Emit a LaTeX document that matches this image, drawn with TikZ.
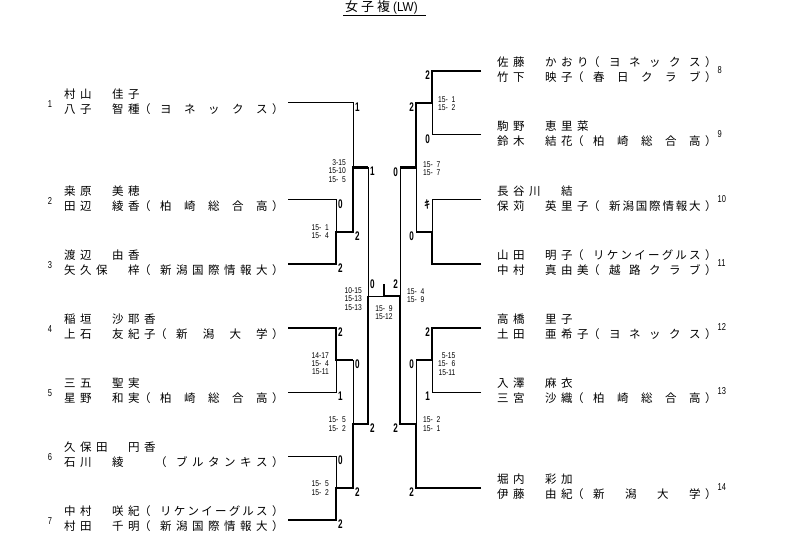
\documentclass[tikz,border=0pt]{standalone}
\usepackage{fontspec}
\usetikzlibrary{calc}
\newfontfamily\jp{Noto Sans CJK JP}
\newfontfamily\jpb[FakeBold=1.5]{Noto Sans CJK JP}
\newfontfamily\scorefont[FakeStretch=0.8]{Liberation Sans}
\newfontfamily\resfont[FakeStretch=0.65]{Liberation Sans}
\newfontfamily\numfont[FakeStretch=0.75]{Liberation Sans}
\newfontfamily\titlefont[FakeStretch=0.9]{Liberation Sans}
\newcount\ncellsA
\makeatletter
\newcommand\cellrow[1]{\@tfor\cc:=#1\do{\makebox[16pt][l]{\cc}}}
\newcommand\spreadrow[2]{\makebox[#1][l]{\let\sepx\relax\@tfor\cc:=#2\do{\sepx\cc\let\sepx\hfill}}}
\newcommand\entryline[2]{\ncellsA=0 \@tfor\cc:=#1\do{\advance\ncellsA by 1 }%
  \cellrow{#1}\makebox[16pt][l]{\hspace{-5pt}（}%
  \spreadrow{\dimexpr 16pt*\numexpr 11-\ncellsA\relax + 11.5pt\relax}{#2}\hspace{4.5pt}）}
\makeatother
\newcommand\hz{\hphantom{0}}
\tikzset{
  loser/.style={line width=1pt},
  winner/.style={line width=2.5pt, line join=miter},
  nm/.style={anchor=base west, inner sep=0pt, font=\jp\fontsize{11.5}{12}\selectfont},
  sc/.style={inner sep=0pt, align=right, font=\scorefont\fontsize{8.4}{8.3}\selectfont},
  res/.style={inner sep=0pt, font=\resfont\bfseries\fontsize{12.5}{13}\selectfont},
  num/.style={inner sep=0pt, font=\numfont\fontsize{10}{11}\selectfont},
}
\begin{document}
\begin{tikzpicture}[x=1pt,y=-1pt]
\fill[white] (0,0) rectangle (794,553);
\useasboundingbox (0,0) rectangle (794,553);

% title
\node[anchor=base west, inner sep=0pt] (title) at (345,11.5)
  {\jp\fontsize{13}{13}\selectfont\makebox[16pt][l]{女}\makebox[16pt][l]{子}\makebox[16pt][l]{複}{\titlefont\fontsize{13}{13}\selectfont(LW)}};
\draw[line width=1pt] ($(title.base west)+(-2,4)$) -- ($(title.base east)+(8,4)$);

% ---------- coordinates ----------
\coordinate (e1) at (288,103); \coordinate (e2) at (288,200);
\coordinate (e3) at (288,264); \coordinate (e4) at (288,328);
\coordinate (e5) at (288,392); \coordinate (e6) at (288,456);
\coordinate (e7) at (288,520);
\coordinate (a1) at (336,200); \coordinate (a2) at (336,264);
\coordinate (am) at (336,232); \coordinate (ao) at (353,232);
\coordinate (b1) at (353,103); \coordinate (bm) at (353,167.5);
\coordinate (bo) at (368,167.5);
\coordinate (c1) at (336,328); \coordinate (c2) at (336,392);
\coordinate (cm) at (336,360); \coordinate (co) at (353,360);
\coordinate (d1) at (336,456); \coordinate (d2) at (336,520);
\coordinate (dm) at (336,488); \coordinate (do) at (353,488);
\coordinate (em) at (353,424); \coordinate (eo) at (368,424);
\coordinate (lsm) at (368,296); \coordinate (fm) at (384,296);
\coordinate (fs) at (384,284); \coordinate (rsm) at (400,296);
\coordinate (r8) at (481,71);  \coordinate (r9) at (481,135);
\coordinate (r10) at (481,200); \coordinate (r11) at (481,264);
\coordinate (r12) at (481,328); \coordinate (r13) at (481,392);
\coordinate (r14) at (481,488);
\coordinate (f1) at (432,71); \coordinate (f2) at (432,135);
\coordinate (fmid) at (432,103); \coordinate (fo) at (416,103);
\coordinate (g1) at (432,200); \coordinate (g2) at (432,264);
\coordinate (gm) at (432,232); \coordinate (go) at (416,232);
\coordinate (hm) at (416,167.5); \coordinate (ho) at (400,167.5);
\coordinate (i1) at (432,328); \coordinate (i2) at (432,392);
\coordinate (im) at (432,360); \coordinate (io) at (416,360);
\coordinate (j2) at (416,488); \coordinate (jm) at (416,424);
\coordinate (jo) at (400,424);

% ---------- bracket lines ----------
\draw[loser] (e1) -- (b1) -- (bm);
\draw[loser] (e2) -- (a1) -- (am);
\draw[loser] (e5) -- (c2) -- (cm);
\draw[loser] (e6) -- (d1) -- (dm);
\draw[loser] (co) -- (em);
\draw[loser] (bo) -- (lsm) -- (fm);
\draw[loser] (r9) -- (f2) -- (fmid);
\draw[loser] (r10) -- (g1) -- (gm);
\draw[loser] (go) -- (hm);
\draw[loser] (ho) -- (rsm);
\draw[loser] (r13) -- (i2) -- (im);
\draw[loser] (io) -- (jm);

\draw[winner] (e3) -- (a2) -- (am) -- (ao) -- (bm) -- (bo);
\draw[winner] (e4) -- (c1) -- (cm) -- (co);
\draw[winner] (e7) -- (d2) -- (dm) -- (do) -- (em) -- (eo) -- (lsm);
\draw[winner] (r8) -- (f1) -- (fmid) -- (fo) -- (hm) -- (ho);
\draw[winner] (r11) -- (g2) -- (gm) -- (go);
\draw[winner] (r12) -- (i1) -- (im) -- (io);
\draw[winner] (r14) -- (j2) -- (jm) -- (jo) -- (rsm) -- (fm) -- (fs);

% ---------- left entries ----------
\node[nm] (t1a) at (64,98.4) {\cellrow{村山　佳子}};
\node[nm] (t1b) at (64,113.9) {\entryline{八子　智種}{ヨネックス}};
\node[nm] (t2a) at (64,195.4) {\cellrow{桒原　美穂}};
\node[nm] (t2b) at (64,210.9) {\entryline{田辺　綾香}{柏崎総合高}};
\node[nm] (t3a) at (64,259.4) {\cellrow{渡辺　由香}};
\node[nm] (t3b) at (64,274.9) {\entryline{矢久保　梓}{新潟国際情報大}};
\node[nm] (t4a) at (64,323.4) {\cellrow{稲垣　沙耶香}};
\node[nm] (t4b) at (64,338.9) {\entryline{上石　友紀子}{新潟大学}};
\node[nm] (t5a) at (64,387.4) {\cellrow{三五　聖実}};
\node[nm] (t5b) at (64,402.9) {\entryline{星野　和実}{柏崎総合高}};
\node[nm] (t6a) at (64,451.4) {\cellrow{久保田　円香}};
\node[nm] (t6b) at (64,466.9) {\entryline{石川　綾　　}{ブルタンキス}};
\node[nm] (t7a) at (64,515.4) {\entryline{中村　咲紀}{リケンイーグルス}};
\node[nm] (t7b) at (64,530.9) {\entryline{村田　千明}{新潟国際情報大}};

\node[num] (n1) at (50,104) {1};
\node[num] (n2) at (50,201) {2};
\node[num] (n3) at (50,265) {3};
\node[num] (n4) at (50,329) {4};
\node[num] (n5) at (50,393) {5};
\node[num] (n6) at (50,457) {6};
\node[num] (n7) at (50,521) {7};

% ---------- right entries ----------
\node[nm] (t8a) at (497,66.4) {\entryline{佐藤　かおり}{ヨネックス}};
\node[nm] (t8b) at (497,81.9) {\entryline{竹下　映子}{春日クラブ}};
\node[nm] (t9a) at (497,130.4) {\cellrow{駒野　恵里菜}};
\node[nm] (t9b) at (497,145.9) {\entryline{鈴木　結花}{柏崎総合高}};
\node[nm] (t10a) at (497,195.4) {\cellrow{長谷川　結}};
\node[nm] (t10b) at (497,210.9) {\entryline{保苅　英里子}{新潟国際情報大}};
\node[nm] (t11a) at (497,259.4) {\entryline{山田　明子}{リケンイーグルス}};
\node[nm] (t11b) at (497,274.9) {\entryline{中村　真由美}{越路クラブ}};
\node[nm] (t12a) at (497,323.4) {\cellrow{高橋　里子}};
\node[nm] (t12b) at (497,338.9) {\entryline{土田　亜希子}{ヨネックス}};
\node[nm] (t13a) at (497,387.4) {\cellrow{入澤　麻衣}};
\node[nm] (t13b) at (497,402.9) {\entryline{三宮　沙織}{柏崎総合高}};
\node[nm] (t14a) at (497,483.4) {\cellrow{堀内　彩加}};
\node[nm] (t14b) at (497,498.9) {\entryline{伊藤　由紀}{新潟大学}};

\node[num,anchor=west] (n8) at (717.5,70) {8};
\node[num,anchor=west] (n9) at (717.5,134) {9};
\node[num,anchor=west] (n10) at (717.5,199) {10};
\node[num,anchor=west] (n11) at (717.5,263) {11};
\node[num,anchor=west] (n12) at (717.5,327) {12};
\node[num,anchor=west] (n13) at (717.5,391) {13};
\node[num,anchor=west] (n14) at (717.5,487) {14};

% ---------- results ----------
\node[res,anchor=west] (l1) at (355,107) {1};
\node[res,anchor=west] (l2) at (338,204) {0};
\node[res,anchor=west] (l3) at (338,268) {2};
\node[res,anchor=west] (lA) at (355,236) {2};
\node[res,anchor=west] (lB) at (370,171.5) {1};
\node[res,anchor=west] (l4) at (338,332) {2};
\node[res,anchor=west] (l5) at (338,396) {1};
\node[res,anchor=west] (lC) at (355,364) {0};
\node[res,anchor=west] (l6) at (338,460) {0};
\node[res,anchor=west] (l7) at (338,524) {2};
\node[res,anchor=west] (lD) at (355,492) {2};
\node[res,anchor=west] (lE) at (370,428) {2};
\node[res,anchor=west] (lFL) at (370,284) {0};
\node[res,anchor=east] (lFR) at (398,284) {2};
\node[res,anchor=east] (l8) at (430,75) {2};
\node[res,anchor=east] (l9) at (430,139) {0};
\node[res,anchor=east] (lF) at (414,107) {2};
\node[inner sep=0pt,anchor=east,font=\jpb\fontsize{11}{11}\selectfont] (l10) at (430,204) {ｷ};
\node[res,anchor=east] (lG) at (414,236) {0};
\node[res,anchor=east] (lH) at (398,172) {0};
\node[res,anchor=east] (l12) at (430,332) {2};
\node[res,anchor=east] (l13) at (430,396) {1};
\node[res,anchor=east] (lI) at (414,364) {0};
\node[res,anchor=east] (l14) at (414,492) {2};
\node[res,anchor=east] (lJ) at (398,428) {2};

% ---------- scores ----------
\node[sc,anchor=east] (sA) at (329,232) {15-\hz1\\15-\hz4};
\node[sc,anchor=east] (sB) at (346,171) {3-15\\15-10\\15-\hz5};
\node[sc,anchor=east] (sC) at (329,363.5) {14-17\\15-\hz4\\15-11};
\node[sc,anchor=east] (sD) at (329,488) {15-\hz5\\15-\hz2};
\node[sc,anchor=east] (sE) at (346,424) {15-\hz5\\15-\hz2};
\node[sc,anchor=east] (sLS) at (362,299) {10-15\\15-13\\15-13};
\node[sc] (sFin) at (384,312.5) {15-\hz9\\15-12};
\node[sc,anchor=west] (sRS) at (407,296) {15-\hz4\\15-\hz9};
\node[sc,anchor=west] (s89) at (438,104) {15-\hz1\\15-\hz2};
\node[sc,anchor=west] (sH) at (423,168.5) {15-\hz7\\15-\hz7};
\node[sc,anchor=west] (sI) at (438,364) {5-15\\15-\hz6\\15-11};
\node[sc,anchor=west] (sJ) at (423,424) {15-\hz2\\15-\hz1};
\end{tikzpicture}
\end{document}
